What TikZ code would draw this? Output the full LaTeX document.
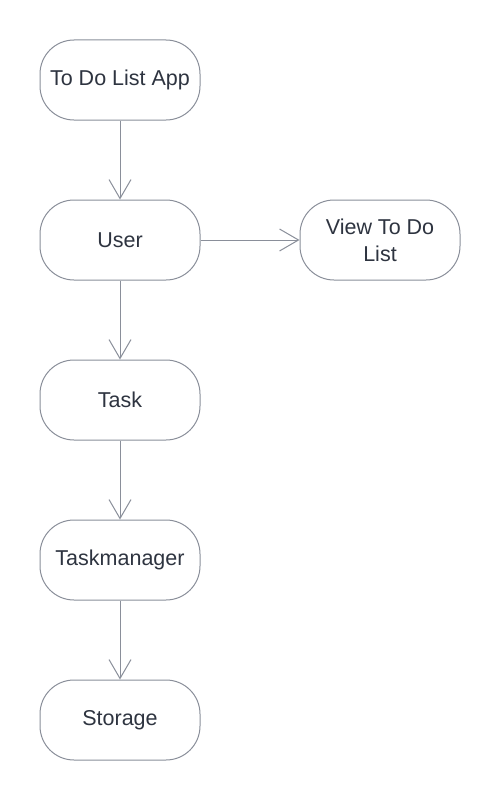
\documentclass[tikz,border=0pt]{standalone}
\usepackage{fontspec}
\setmainfont{Liberation Sans}
\usetikzlibrary{arrows.meta}
\definecolor{edge}{HTML}{8A8F9A}
\definecolor{txt}{HTML}{2E3440}
\begin{document}
\begin{tikzpicture}[x=1pt,y=-1pt,
  box/.style={draw=edge, line width=1pt, rounded corners=34pt, minimum width=160pt, minimum height=80pt, inner sep=0pt, align=center, text=txt, font=\fontsize{21.5}{27}\selectfont, fill=white},
  link/.style={draw=edge, line width=1pt, -{Straight Barb[length=19pt,width=22pt,line width=1pt]}}]
\useasboundingbox (0,0) rectangle (500,800);
\fill[white] (0,0) rectangle (500,800);
\node[box] (app) at (120,80) {To Do List App};
\node[box] (user) at (120,240) {User};
\node[box] (view) at (380,240) {View To Do\\List};
\node[box] (task) at (120,400) {Task};
\node[box] (tm) at (120,560) {Taskmanager};
\node[box] (st) at (120,720) {Storage};
\draw[link] (app) -- (user);
\draw[link] (user) -- (view);
\draw[link] (user) -- (task);
\draw[link] (task) -- (tm);
\draw[link] (tm) -- (st);
\end{tikzpicture}
\end{document}
